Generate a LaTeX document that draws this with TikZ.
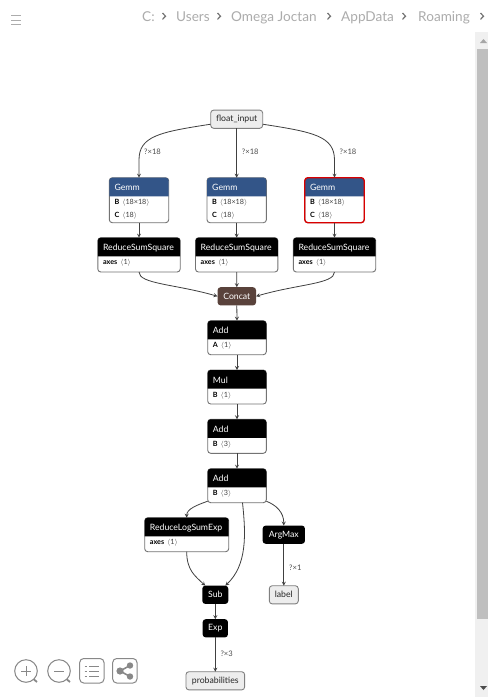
\documentclass[tikz,border=0pt]{standalone}
\usepackage{fontspec}
\setmainfont{Lato}
\usetikzlibrary{arrows}
\definecolor{layercol}{RGB}{51,85,136}
\definecolor{tensorcol}{RGB}{89,66,59}
\definecolor{crumbcol}{RGB}{172,172,172}
\definecolor{iconcol}{RGB}{136,136,136}
\tikzset{
	opframe/.style={draw=black!55,fill=white,rounded corners=3,line width=.9,inner sep=0pt,outer sep=0pt},
	optitle/.style={text=white,font=\fontsize{8.7}{10}\selectfont,inner sep=0pt},
	opattr/.style={font=\fontsize{7.2}{15.4}\selectfont,align=left,inner sep=0pt,text=black!75},
	opsmall/.style={fill=black,rounded corners=3,text=white,font=\fontsize{8.7}{10}\selectfont,inner sep=0pt,outer sep=0pt,minimum height=18.2},
	iobox/.style={draw=black!50,fill=black!7,rounded corners=3,line width=.9,font=\fontsize{8.7}{10}\selectfont,text=black!85,inner sep=0pt,outer sep=0pt,minimum height=18.2},
	edge/.style={draw=black!75,line width=.8,-stealth},
	edgelabel/.style={font=\fontsize{7.6}{8}\selectfont,text=black!70,inner sep=0pt},
	crumb/.style={text=crumbcol,font=\fontsize{13.6}{14}\selectfont,inner sep=0pt,anchor=base west},
	icon/.style={draw=iconcol,line width=1}
}
% name, centre x, top y, width, height, colour, title, attributes
\newcommand{\opnode}[8]{
	\node[opframe,minimum width=#4,minimum height=#5,anchor=north] (#1) at (#2,#3) {};
	\fill[#6] ([yshift=-18.6]#1.north west) [rounded corners=3] -- (#1.north west) -- (#1.north east) [sharp corners] -- ([yshift=-18.6]#1.north east) -- cycle;
	\node[optitle,anchor=west] (#1title) at ([xshift=5,yshift=-10]#1.north west) {#7};
	\node[opattr,anchor=north west] (#1attr) at ([xshift=5,yshift=-21.8]#1.north west) {#8};
}
\newcommand{\attr}[2]{\textbf{\color{black}#1}\, $\langle$#2$\rangle$}
\begin{document}
\begin{tikzpicture}[x=1pt,y=-1pt]
	\useasboundingbox (0,0) rectangle (488,697);
	\fill[white] (0,0) rectangle (488,697);

	\node[iobox,minimum width=52] (finput) at (236.7,119.2) {float\_input};

	\opnode{gemma}{139}{177.7}{59.4}{45}{layercol}{Gemm}{\attr{B}{18×18}\\[-3pt]\attr{C}{18}}
	\opnode{gemmb}{236.7}{177.7}{59.4}{45}{layercol}{Gemm}{\attr{B}{18×18}\\[-3pt]\attr{C}{18}}
	\opnode{gemmc}{334.5}{177.7}{59.4}{45}{layercol}{Gemm}{\attr{B}{18×18}\\[-3pt]\attr{C}{18}}
	\draw[red!85!black,line width=1.3,rounded corners=3] (gemmc.south west) rectangle (gemmc.north east);

	\opnode{rssa}{139}{237.7}{82.4}{34.3}{black}{ReduceSumSquare}{\attr{axes}{1}}
	\opnode{rssb}{236.7}{237.7}{82.4}{34.3}{black}{ReduceSumSquare}{\attr{axes}{1}}
	\opnode{rssc}{334.5}{237.7}{82.4}{34.3}{black}{ReduceSumSquare}{\attr{axes}{1}}

	\node[opsmall,fill=tensorcol,minimum width=38.4] (concat) at (236.8,296.3) {Concat};

	\opnode{adda}{237}{320.7}{58.6}{34}{black}{Add}{\attr{A}{1}}
	\opnode{mul}{237}{370}{58.6}{34}{black}{Mul}{\attr{B}{1}}
	\opnode{addb}{237}{419.3}{58.6}{34}{black}{Add}{\attr{B}{3}}
	\opnode{addc}{237}{468.7}{58.6}{34}{black}{Add}{\attr{B}{3}}

	\opnode{rlse}{186.7}{517.7}{84}{34}{black}{ReduceLogSumExp}{\attr{axes}{1}}
	\node[opsmall,minimum width=42.3] (argmax) at (283.8,534.7) {ArgMax};
	\node[opsmall,minimum width=26] (subop) at (215.3,594.8) {Sub};
	\node[iobox,minimum width=29] (labelout) at (283.8,594.8) {label};
	\node[opsmall,minimum width=25.3] (expop) at (215.3,628.3) {Exp};
	\node[iobox,minimum width=58.7] (probs) at (215.3,680.8) {probabilities};

	\draw[edge] ([yshift=-5]finput.west) .. controls (160,132) and (139,136) .. (139,160) -- (gemma.north);
	\draw[edge] (finput.south) -- (gemmb.north);
	\draw[edge] ([yshift=-5]finput.east) .. controls (313,132) and (334.5,136) .. (334.5,160) -- (gemmc.north);
	\draw[edge] (gemma.south) -- (rssa.north);
	\draw[edge] (gemmb.south) -- (rssb.north);
	\draw[edge] (gemmc.south) -- (rssc.north);
	\draw[edge] (rssa.south) .. controls (139,284) and (175,284) .. (concat.west);
	\draw[edge] (rssb.south) -- (concat.north);
	\draw[edge] (rssc.south) .. controls (334.5,284) and (298,284) .. (concat.east);
	\draw[edge] (concat.south) -- (adda.north);
	\draw[edge] (adda.south) -- (mul.north);
	\draw[edge] (mul.south) -- (addb.north);
	\draw[edge] (addb.south) -- (addc.north);
	\draw[edge] ([yshift=1.5]addc.south west) .. controls (197,505) and (186.7,509) .. (rlse.north);
	\draw[edge] ([xshift=5.5]addc.south) .. controls (246,535) and (247,565) .. ([xshift=10]subop.north);
	\draw[edge] ([yshift=1.5]addc.south east) .. controls (276,505) and (283.8,512) .. (argmax.north);
	\draw[edge] (rlse.south) .. controls (186.7,570) and (195,576) .. ([xshift=-10]subop.north);
	\draw[edge] (argmax.south) -- (labelout.north);
	\draw[edge] (subop.south) -- (expop.north);
	\draw[edge] (expop.south) -- (probs.north);

	\node[edgelabel] (lbla) at (152.5,152) {?×18};
	\node[edgelabel] (lblb) at (250.3,152) {?×18};
	\node[edgelabel] (lblc) at (348,152) {?×18};
	\node[edgelabel] (lbld) at (295.3,568) {?×1};
	\node[edgelabel] (lble) at (226.7,654) {?×3};

	\draw[line width=.8,draw=crumbcol] (11,15.5) -- (21,15.5) (11,20) -- (21,20) (11,24.5) -- (21,24.5);
	\node[crumb] (crc) at (142,21) {C:};
	\node[crumb] (cru) at (176,21) {Users};
	\node[crumb] (cro) at (231,21) {Omega Joctan};
	\node[crumb] (cra) at (341,21) {AppData};
	\node[crumb] (crr) at (418,21) {Roaming};
	\foreach \x in {164,219,329,404,482}
		\draw[line width=1.2,draw=black!55] (\x-1.5,13) -- (\x+1.5,16.2) -- (\x-1.5,19.4);

	\fill[black!6] (475.3,32) rectangle (488,697);
	\fill[black!25] (477,49.3) rectangle (488,619);
	\fill[black!35] (480,43) -- (487,43) -- (483.5,39) -- cycle;
	\fill[black!70] (480,686) -- (487,686) -- (483.5,690) -- cycle;

	\draw[icon] (26,671) circle (11.3);
	\draw[icon] (21,671) -- (31,671) (26,666) -- (26,676);
	\draw[icon,line width=1.8] (34,679.5) -- (37,682);
	\draw[icon] (59,671) circle (11.3);
	\draw[icon] (54,671) -- (64,671);
	\draw[icon,line width=1.8] (67,679.5) -- (70,682);
	\draw[icon,rounded corners=4] (79.7,658.5) rectangle (104,683);
	\draw[icon] (84.5,666) -- (87,666) (89,666) -- (99,666) (84.5,671) -- (87,671) (89,671) -- (99,671) (84.5,676) -- (87,676) (89,676) -- (99,676);
	\draw[icon,rounded corners=4] (112.7,658.5) rectangle (137,683);
	\draw[icon,line width=1.6] (130,665.5) -- (120,671) -- (130,676.5);
	\fill[iconcol] (130,665.5) circle (3.2) (120,671) circle (3.6) (130,676.5) circle (3.2);
\end{tikzpicture}
\end{document}
